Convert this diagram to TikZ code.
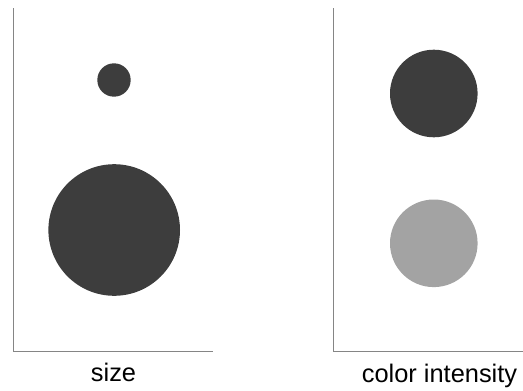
\documentclass[tikz,border=0pt]{standalone}
\usepackage{fontspec}
\setmainfont{Liberation Sans}
\begin{document}
\begin{tikzpicture}[x=1pt,y=-1pt,
  axis/.style={draw=black!48,line width=1pt},
  dot/.style={circle,inner sep=0pt,draw=none},
  darkdot/.style={dot,fill=black!76},
  lightdot/.style={dot,fill=black!36},
  lbl/.style={anchor=base,inner sep=0pt,font=\fontsize{25.4}{28}\selectfont}]
\useasboundingbox (0,0) rectangle (523,391);
% left panel axes
\coordinate (lt) at (13,8);
\coordinate (lo) at (13,351);
\coordinate (lr) at (212.5,351);
\draw[axis] (lt) -- (lo) -- (lr);
% right panel axes
\coordinate (rt) at (333.5,8);
\coordinate (ro) at (333.5,351);
\coordinate (rr) at (523,351);
\draw[axis] (rt) -- (ro) -- (rr);
% circles
\node[darkdot,minimum size=33.4pt] (small) at (114,80) {};
\node[darkdot,minimum size=131.6pt] (big) at (114.2,230) {};
\node[darkdot,minimum size=87.6pt] (dark) at (433.8,93.5) {};
\node[lightdot,minimum size=87.6pt] (light) at (433.8,243.3) {};
% labels
\node[lbl] (size) at (113.5,381.5) {size};
\node[lbl] (ci) at (439.5,382) {color intensity};
\end{tikzpicture}
\end{document}
